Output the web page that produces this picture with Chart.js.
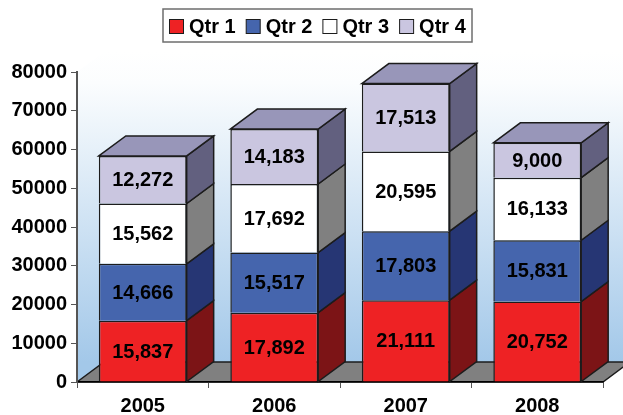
<!DOCTYPE html>
<html>
<head>
<meta charset="utf-8">
<title>Quarterly totals</title>
<script src="https://cdn.jsdelivr.net/npm/chart.js@4/dist/chart.umd.min.js"></script>
<style>
    html, body { margin: 0; padding: 0; background: #fff; }
    #wrap { width: 623px; height: 415px; }
</style>
</head>
<body>
<div id="wrap"><canvas id="chart"></canvas></div>
<script>
const years = ["2005", "2006", "2007", "2008"];
const qtr1 = [15837, 17892, 21111, 20752];
const qtr2 = [14666, 15517, 17803, 15831];
const qtr3 = [15562, 17692, 20595, 16133];
const qtr4 = [12272, 14183, 17513, 9000];
const yTicks = [0, 10000, 20000, 30000, 40000, 50000, 60000, 70000, 80000];

const FONT = '"Liberation Sans", Arial, sans-serif';
const INK = "#1c1c1c";
// depth of the fake 3D box
const DX = 27, DY = 20;

function poly(ctx, pts, fill) {
    ctx.beginPath();
    pts.forEach((p, i) => i ? ctx.lineTo(p[0], p[1]) : ctx.moveTo(p[0], p[1]));
    ctx.closePath();
    ctx.fillStyle = fill;
    ctx.fill();
    ctx.lineWidth = 1.5;
    ctx.strokeStyle = INK;
    ctx.stroke();
}

// back wall, side wall and floor go under the axes
const room = {
    id: "room",
    beforeDraw(chart) {
        const { ctx, chartArea: a } = chart;
        const wall = ctx.createLinearGradient(0, a.top - DY, 0, a.bottom - DY);
        wall.addColorStop(0, "#ffffff");
        wall.addColorStop(0.1, "#fbfdfe");
        wall.addColorStop(1, "#a3c8e9");
        ctx.save();
        ctx.fillStyle = wall;
        ctx.beginPath();
        ctx.moveTo(a.left, a.top);
        ctx.lineTo(a.left + DX, a.top - DY);
        ctx.lineTo(a.right + DX, a.top - DY);
        ctx.lineTo(a.right + DX, a.bottom - DY);
        ctx.lineTo(a.left, a.bottom);
        ctx.closePath();
        ctx.fill();
        poly(ctx, [
            [a.left, a.bottom],
            [a.left + DX, a.bottom - DY],
            [a.right + DX, a.bottom - DY],
            [a.right, a.bottom]
        ], "#808080");
        ctx.restore();
    }
};

const boxes = {
    id: "boxes",
    beforeDatasetsDraw(chart) {
        const ctx = chart.ctx;
        ctx.save();
        chart.data.datasets.forEach((ds, d) => {
            chart.getDatasetMeta(d).data.forEach(bar => {
                const right = bar.x + bar.width / 2;
                const left = bar.x - bar.width / 2;
                poly(ctx, [
                    [right, bar.y],
                    [right + DX, bar.y - DY],
                    [right + DX, bar.base - DY],
                    [right, bar.base]
                ], ds.sideColor);
                if (d === chart.data.datasets.length - 1) {
                    poly(ctx, [
                        [left, bar.y],
                        [left + DX, bar.y - DY],
                        [right + DX, bar.y - DY],
                        [right, bar.y]
                    ], ds.topColor);
                }
            });
        });
        ctx.restore();
    },
    afterDatasetsDraw(chart) {
        const ctx = chart.ctx;
        ctx.save();
        ctx.font = "bold 20px " + FONT;
        ctx.fillStyle = "#000";
        ctx.textAlign = "center";
        ctx.textBaseline = "middle";
        chart.data.datasets.forEach((ds, d) => {
            chart.getDatasetMeta(d).data.forEach((bar, i) => {
                ctx.fillText(ds.data[i].toLocaleString("en-US"), bar.x, (bar.y + bar.base) / 2 + 1);
            });
        });
        ctx.restore();
    }
};

// boxed legend with tighter swatch/text spacing than the built-in one
const boxLegend = {
    id: "boxLegend",
    afterDraw(chart) {
        const ctx = chart.ctx;
        ctx.save();
        ctx.fillStyle = "#fff";
        ctx.strokeStyle = "#6e6e6e";
        ctx.lineWidth = 1.5;
        ctx.fillRect(163, 9, 309, 33);
        ctx.strokeRect(163, 9, 309, 33);
        ctx.font = "bold 20px " + FONT;
        ctx.textBaseline = "middle";
        chart.data.datasets.forEach((ds, d) => {
            const x = 169.5 + d * 76.7;
            ctx.fillStyle = ds.backgroundColor;
            ctx.strokeStyle = INK;
            ctx.lineWidth = 1;
            ctx.fillRect(x, 19.5, 14, 14);
            ctx.strokeRect(x, 19.5, 14, 14);
            ctx.fillStyle = "#000";
            ctx.fillText(ds.label, x + 19.5, 27);
        });
        ctx.restore();
    }
};

function series(label, data, backgroundColor, sideColor, topColor) {
    return {
        label, data, backgroundColor, sideColor, topColor,
        borderColor: INK,
        borderWidth: 1.5,
        barPercentage: 0.668,
        categoryPercentage: 1
    };
}

new Chart(document.getElementById("chart"), {
    type: "bar",
    data: {
        labels: years,
        datasets: [
            series("Qtr 1", qtr1, "#ee2224", "#7c1416"),
            series("Qtr 2", qtr2, "#4565ad", "#263674"),
            series("Qtr 3", qtr3, "#ffffff", "#808080"),
            series("Qtr 4", qtr4, "#cac6e0", "#62607f", "#9896b9")
        ]
    },
    plugins: [room, boxes, boxLegend],
    options: {
        responsive: true,
        maintainAspectRatio: false,
        animation: false,
        layout: { padding: { top: 72, right: 20 } },
        plugins: {
            legend: { display: false },
            tooltip: { enabled: false }
        },
        scales: {
            x: {
                stacked: true,
                afterFit: scale => { scale.height = 33; },
                border: { color: "#000", width: 1.5 },
                grid: { drawOnChartArea: false, tickColor: "#555", tickLength: 6 },
                ticks: {
                    color: "#000",
                    padding: 6,
                    font: { family: FONT, size: 20, weight: "bold" }
                }
            },
            y: {
                stacked: true,
                min: 0,
                max: 80000,
                afterFit: scale => { scale.width = 77; },
                afterBuildTicks: scale => { scale.ticks = yTicks.map(value => ({ value })); },
                border: { color: "#555", width: 2 },
                grid: { drawOnChartArea: false, tickColor: "#555", tickLength: 6 },
                ticks: {
                    color: "#000",
                    padding: 4,
                    font: { family: FONT, size: 20, weight: "bold" },
                    callback: value => String(value)
                }
            }
        }
    }
});
</script>
</body>
</html>
